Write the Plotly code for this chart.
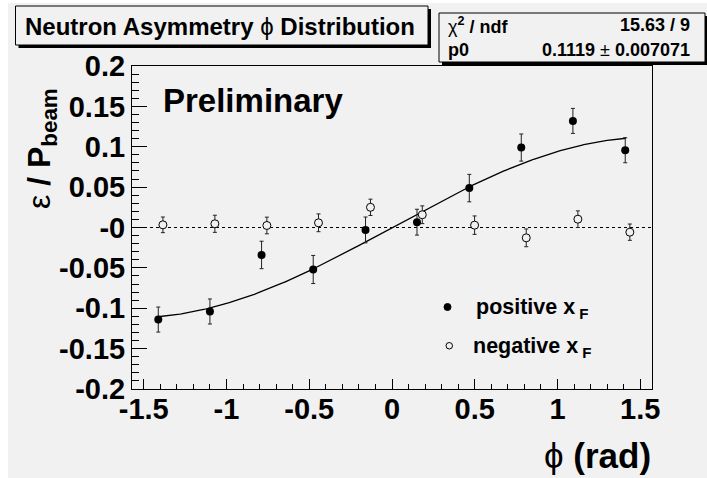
import numpy as np
import plotly.graph_objects as go

# ---------------- data ----------------
phi_pos = [-1.412, -1.100, -0.788, -0.476, -0.160, 0.151, 0.467, 0.781, 1.093, 1.409]
asym_pos = [-0.114, -0.104, -0.034, -0.052, -0.003, 0.0066, 0.0488, 0.099, 0.132, 0.0957]
err_pos = [0.0155, 0.0155, 0.017, 0.0174, 0.016, 0.016, 0.017, 0.0168, 0.0155, 0.0155]

phi_neg = [-1.384, -1.070, -0.756, -0.444, -0.130, 0.183, 0.499, 0.811, 1.123, 1.437]
asym_neg = [0.0033, 0.0046, 0.0025, 0.0058, 0.025, 0.0158, 0.0029, -0.0128, 0.0103, -0.0058]
err_neg = [0.0097, 0.0106, 0.0103, 0.011, 0.0101, 0.011, 0.0114, 0.011, 0.0103, 0.0101]

p0 = 0.1119            # fit parameter shown in the stats box
p0_err = 0.007071
chi2_text = "15.63 / 9"
fit_range = [-1.414, 1.414]

y_tickvals = [0.2, 0.15, 0.1, 0.05, 0.0, -0.05, -0.1, -0.15, -0.2]
y_ticktext = ["0.2", "0.15", "0.1", "0.05", "-0", "-0.05", "-0.1", "-0.15", "-0.2"]
x_tickvals = [-1.5, -1, -0.5, 0, 0.5, 1, 1.5]
x_ticktext = ["-1.5", "-1", "-0.5", "0", "0.5", "1", "1.5"]

# ---------------- layout geometry ----------------
W, H = 707, 478
L, R, T, B = 132, 652, 66, 389
BG = "#f1f1f1"
FONT = "Liberation Sans"


def px(x):
    return (x - L) / (R - L)


def py(y):
    return (B - y) / (B - T)


fit_x = np.linspace(fit_range[0], fit_range[1], 300)
fit_y = p0 * np.sin(fit_x)

fig = go.Figure()

fig.add_trace(go.Scatter(x=fit_x, y=fit_y, mode="lines",
                         line=dict(color="black", width=1.3), showlegend=False,
                         hoverinfo="skip"))

fig.add_trace(go.Scatter(
    x=phi_neg, y=asym_neg, mode="markers",
    marker=dict(symbol="circle", size=8, color=BG, line=dict(color="black", width=1)),
    error_y=dict(type="data", array=err_neg, color="#222222", thickness=1, width=2),
    showlegend=False))

fig.add_trace(go.Scatter(
    x=phi_pos, y=asym_pos, mode="markers",
    marker=dict(symbol="circle", size=8, color="black"),
    error_y=dict(type="data", array=err_pos, color="#222222", thickness=1, width=2),
    showlegend=False))

shapes = []
# white strips at the canvas border
shapes.append(dict(type="rect", xref="paper", yref="paper", x0=px(0), x1=px(8), y0=py(0), y1=py(H),
                   fillcolor="white", line=dict(width=0), layer="below"))
shapes.append(dict(type="rect", xref="paper", yref="paper", x0=px(0), x1=px(W), y0=py(0), y1=py(3),
                   fillcolor="white", line=dict(width=0), layer="below"))
# zero line
shapes.append(dict(type="line", xref="paper", yref="y", x0=0, x1=1, y0=0, y1=0,
                   line=dict(color="black", width=1, dash="dot"), layer="below"))


def box(x0, y0, x1, y1, sh=3):
    shapes.append(dict(type="rect", xref="paper", yref="paper",
                       x0=px(x0 + sh), x1=px(x1 + sh), y0=py(y0 + sh), y1=py(y1 + sh),
                       fillcolor="black", line=dict(width=0)))
    shapes.append(dict(type="rect", xref="paper", yref="paper",
                       x0=px(x0), x1=px(x1), y0=py(y0), y1=py(y1),
                       fillcolor=BG, line=dict(color="black", width=1)))


box(15.5, 6, 428, 45)
box(439, 13, 705, 62)

# legend markers
shapes.append(dict(type="circle", xref="paper", yref="paper",
                   x0=px(444), x1=px(451), y0=py(303.5), y1=py(310.5),
                   fillcolor="black", line=dict(color="black", width=1)))
shapes.append(dict(type="circle", xref="paper", yref="paper",
                   x0=px(446), x1=px(452.5), y0=py(342.5), y1=py(349),
                   fillcolor=BG, line=dict(color="black", width=1)))

ann = []


def text(x, y, s, size, xanchor="left", yanchor="middle", angle=0):
    ann.append(dict(x=px(x), y=py(y), xref="paper", yref="paper", text=s, showarrow=False,
                    xanchor=xanchor, yanchor=yanchor, textangle=angle,
                    font=dict(family=FONT, size=size, color="black")))


text(220, 27, "<b>Neutron Asymmetry </b>ϕ<b> Distribution</b>", 24, xanchor="center")
text(446, 25, "χ<sup><b>2</b></sup><b> / ndf</b>", 18)
text(692, 25, "<b>" + chi2_text + "</b>", 18, xanchor="right")
text(446, 50, "<b>p0</b>", 18)
text(692, 50, "<b>%.4f </b>±<b> %.6f</b>" % (p0, p0_err), 18, xanchor="right")
text(161, 100, "<b>Preliminary</b>", 33)
text(474, 308, "<b>positive x</b><sub><b> F</b></sub>", 21.5)
text(471, 347, "<b>negative x</b><sub><b> F</b></sub>", 21.5)
text(653, 455, "ϕ<b> (rad)</b>", 35, xanchor="right")
text(41, 149, "ε<b> / P</b><sub><b>beam</b></sub>", 32, xanchor="center", angle=-90)

fig.update_layout(
    width=W, height=H, autosize=False,
    margin=dict(l=L, r=W - R, t=T, b=H - B, pad=0),
    paper_bgcolor=BG, plot_bgcolor=BG,
    showlegend=False,
    shapes=shapes, annotations=ann,
    font=dict(family=FONT, color="black"),
)

fig.update_xaxes(range=[-1.5708, 1.5708], showgrid=False, zeroline=False,
                 showline=True, linecolor="black", linewidth=1, mirror=True,
                 ticks="inside", ticklen=10, tickcolor="black", tickwidth=1,
                 tickvals=x_tickvals, ticktext=x_ticktext, ticklabelstandoff=-6,
                 tickfont=dict(family=FONT, size=29, weight="bold"),
                 minor=dict(ticks="inside", ticklen=5, dtick=0.1, tick0=0, tickcolor="black", showgrid=False))
fig.update_yaxes(range=[-0.2, 0.2], showgrid=False, zeroline=False,
                 showline=True, linecolor="black", linewidth=1, mirror=True,
                 ticks="inside", ticklen=15, tickcolor="black", tickwidth=1,
                 tickvals=y_tickvals, ticktext=y_ticktext,
                 tickfont=dict(family=FONT, size=29, weight="bold"),
                 minor=dict(ticks="inside", ticklen=7, dtick=0.01, tick0=0, tickcolor="black", showgrid=False))

fig.write_html("out.html", config={"displayModeBar": False},
               post_script="document.body.style.margin='0';document.body.style.overflow='hidden';")
